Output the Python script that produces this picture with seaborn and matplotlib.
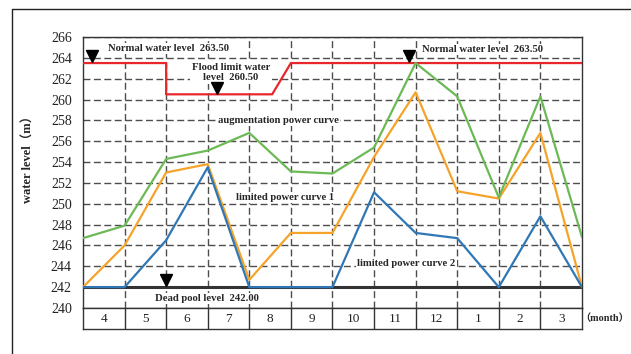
import numpy as np
import pandas as pd
import matplotlib.pyplot as plt
import seaborn as sns
from matplotlib.lines import Line2D

months = ["4", "5", "6", "7", "8", "9", "10", "11", "12", "1", "2", "3"]
steps = list(range(13))

augmentation = [246.7, 247.9, 254.3, 255.1, 256.8, 253.1, 252.9, 255.4, 263.5, 260.3, 250.6, 260.3, 246.8]
limited_1 = [242.0, 246.0, 253.0, 253.8, 242.7, 247.2, 247.2, 254.5, 260.7, 251.2, 250.5, 256.8, 242.0]
limited_2 = [242.0, 242.0, 246.5, 253.5, 242.0, 242.0, 242.0, 251.1, 247.2, 246.7, 242.0, 248.8, 242.0]

limit_x = [0, 2, 2, 4.55, 5, 12]
limit_y = [263.5, 263.5, 260.5, 260.5, 263.5, 263.5]
dead_pool = 242.0

curves = pd.DataFrame({
    "step": steps * 3,
    "level": augmentation + limited_1 + limited_2,
    "curve": ["aug"] * 13 + ["lim1"] * 13 + ["lim2"] * 13,
})
limit_df = pd.DataFrame({"step": limit_x, "level": limit_y})

sns.set_style("white")
plt.rcParams["font.family"] = ["Liberation Serif", "Noto Sans CJK SC"]

fig = plt.figure(figsize=(6.31, 3.54), dpi=100)
ax = fig.add_axes([0.1315, 0.13, 0.7908, 0.7655])
axt = fig.add_axes([0.1315, 0.0706, 0.7908, 0.0594])

# grid
grid_kw = dict(color="#4d4d4d", lw=1.0, ls=(0, (5, 2.5)), zorder=1)
for yv in range(242, 267, 2):
    ax.axhline(yv, **grid_kw)
for xv in range(1, 12):
    ax.axvline(xv, **grid_kw)

ax.plot([0, 12], [dead_pool, dead_pool], color="#333333", lw=2.2, zorder=2)

sns.lineplot(data=limit_df, x="step", y="level", estimator=None, sort=False,
             color="#e8262c", lw=1.6, ax=ax, zorder=3)
sns.lineplot(data=curves, x="step", y="level", hue="curve", estimator=None,
             palette={"aug": "#6cb956", "lim1": "#f5a32a", "lim2": "#2f77b5"},
             hue_order=["lim1", "aug", "lim2"], lw=1.6, ax=ax, legend=False, zorder=4)

ax.set_xlim(0, 12)
ax.set_ylim(240, 266)
ax.set_yticks(range(240, 267, 2))
ax.set_xticks([])
ax.set_xlabel("")
ax.tick_params(axis="y", length=0, labelsize=10, pad=8, labelcolor="#222222")
ax.set_ylabel("water level（m）", fontsize=9, fontweight="bold")
ax.yaxis.set_label_coords(-0.097, 0.56)
for s in ax.spines.values():
    s.set_color("#333333")
    s.set_linewidth(1.0)

# markers
tri = dict(marker="v", color="black", ms=8, ls="none", zorder=6)
ax.plot([0.22], [264.15], **tri)
ax.plot([3.22], [261.15], **tri)
ax.plot([7.84], [264.15], **tri)
ax.plot([2.0], [242.65], **tri)

box = dict(facecolor="white", edgecolor="none", pad=1.0)
txt = dict(fontsize=7.7, fontweight="bold", ha="center", va="center", bbox=box, zorder=5)
ax.text(2.06, 264.9, "Normal water level  263.50", **txt)
ax.text(9.6, 264.8, "Normal water level  263.50", **txt)
ax.text(3.56, 262.6, "Flood limit water\nlevel  260.50", linespacing=1.2, **txt)
ax.text(4.70, 258.0, "augmentation power curve", **txt)
ax.text(4.86, 250.6, "limited power curve 1", **txt)
ax.text(7.77, 244.3, "limited power curve 2", **txt)
ax.text(2.97, 240.9, "Dead pool level  242.00", **txt)

# month row
axt.set_xlim(0, 12)
axt.set_ylim(0, 1)
for xv in range(1, 12):
    axt.axvline(xv, color="#333333", lw=1.0)
for i, m in enumerate(months):
    axt.text(i + 0.5, 0.48, m, ha="center", va="center", fontsize=9.5, color="#222222")
axt.set_xticks([])
axt.set_yticks([])
for s in axt.spines.values():
    s.set_color("#333333")
    s.set_linewidth(1.0)
fig.text(0.997, 1 - 318 / 354, "（month）", ha="right", va="center",
         fontsize=7.3, fontweight="bold")

# outer frame
fig.add_artist(Line2D([12 / 631, 1.0], [1 - 9 / 354, 1 - 9 / 354], color="#222222", lw=1.0))
fig.add_artist(Line2D([12 / 631, 12 / 631], [0, 1 - 9 / 354], color="#222222", lw=1.0))

fig.savefig("out.png", dpi=100)
